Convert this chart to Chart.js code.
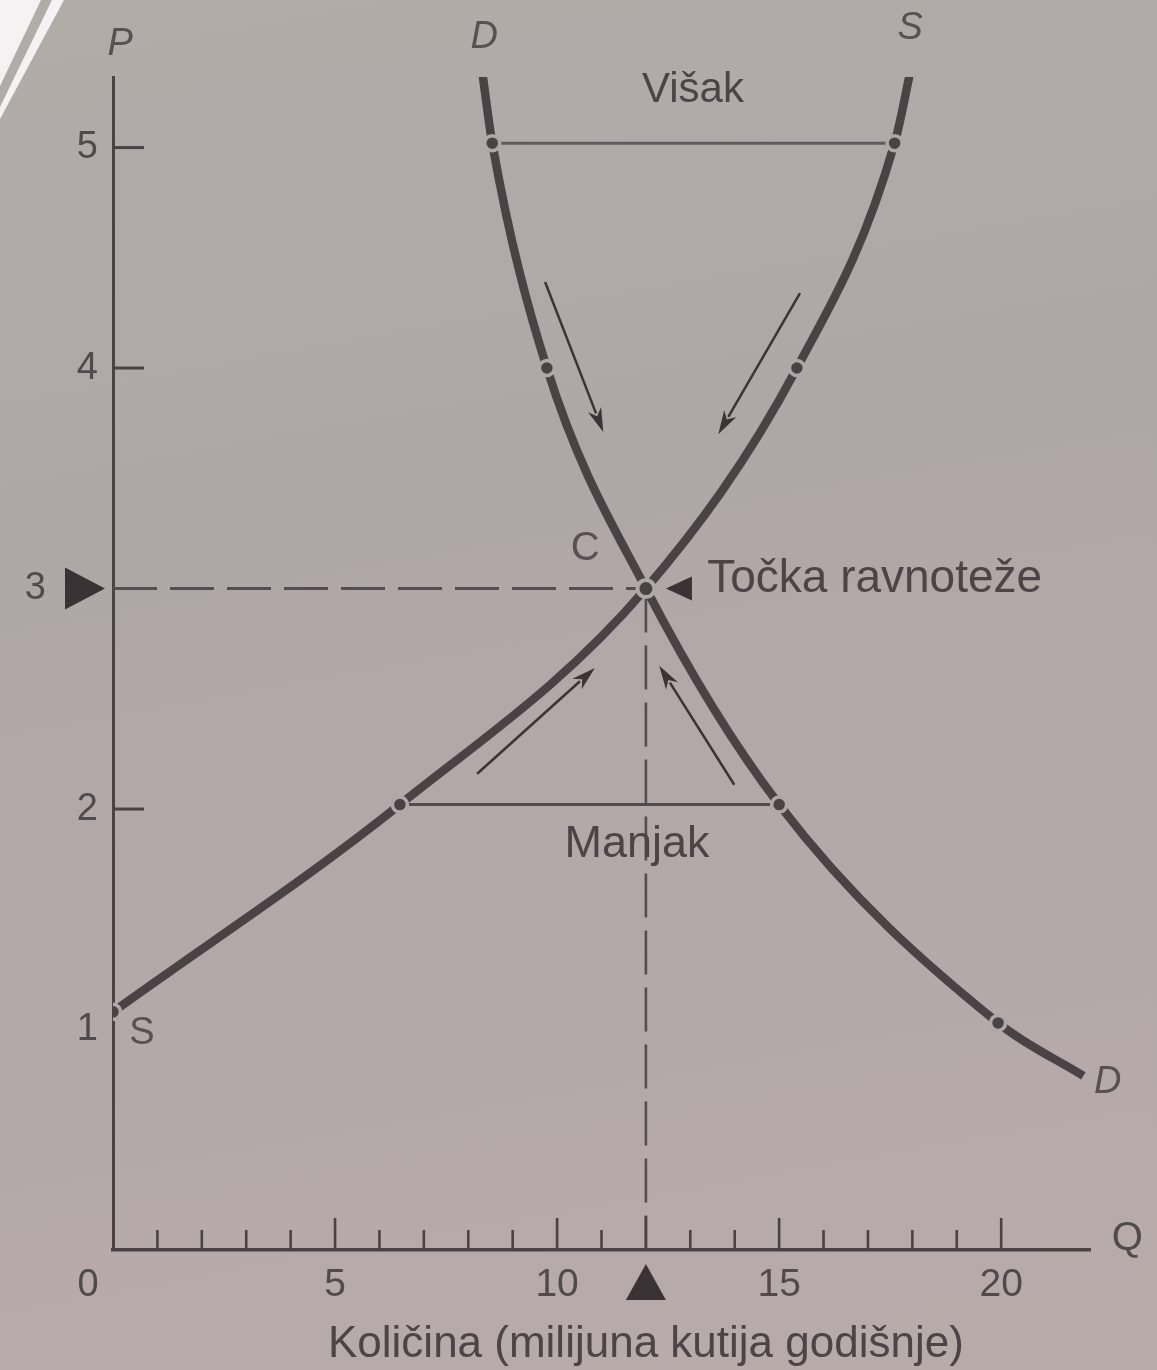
<!DOCTYPE html>
<html><head><meta charset="utf-8">
<script src="https://cdn.jsdelivr.net/npm/chart.js@4.4.1/dist/chart.umd.min.js"></script>
<style>
html,body{margin:0;padding:0;background:#b1a8a8;}
#wrap{width:1157px;height:1370px;position:relative;overflow:hidden;
background:linear-gradient(170deg,#b2aca9 0%,#afa7a6 35%,#b3a9a8 70%,#b8acab 100%);}
canvas{display:block;}
</style></head>
<body><div id="wrap"><canvas id="c" width="1157" height="1370"></canvas></div>
<script>
// ---- data ----
const supplyQ = [0, 6.46, 12, 15.4, 17.6, 18.0];
const supplyP = [1.08, 2.02, 3, 4.0, 5.02, 5.39];
const supplyDot = [1, 1, 0, 1, 1, 0];

const demandQ = [8.31, 8.54, 9.77, 12, 15.0, 19.93, 21.85];
const demandP = [5.35, 5.02, 4.0, 3, 2.02, 1.03, 0.79];
const demandDot = [0, 1, 1, 0, 1, 1, 0];

const eqQ = 12, eqP = 3;
const surplusP = 5.02, surplusQ = [8.54, 17.6];
const shortageP = 2.02, shortageQ = [6.46, 15.0];

const xTickValues = [5, 10, 15, 20];
const xTickLabels = ['5', '10', '15', '20'];
const yTickValues = [1, 2, 4, 5];
const yTickLabels = ['1', '2', '4', '5'];
const yTickMarks = [2, 4, 5];
const xMinorMax = 20;

// arrows: [fromQ, fromP, toQ, toP]
const arrows = [
  [9.73, 4.39, 11.04, 3.71],
  [15.47, 4.34, 13.63, 3.70],
  [8.2, 2.16, 10.85, 2.64],
  [13.99, 2.11, 12.3, 2.65]
];

// text: [text, Q, P, style, size]
const textLabels = [
  ['P', 0.16, 5.47, 'it', 38],
  ['D', 8.36, 5.50, 'it', 38],
  ['S', 17.95, 5.54, 'it', 38],
  ['Višak', 13.06, 5.26, 'txt', 42],
  ['C', 10.63, 3.18, 'c', 40],
  ['Točka ravnoteže', 13.38, 3.04, 'left', 46],
  ['Manjak', 11.8, 1.84, 'txt', 45],
  ['S', 0.65, 0.98, 'up', 38],
  ['D', 22.4, 0.76, 'it', 38],
  ['Q', 22.84, 0.05, 'num', 40],
  ['0', -0.56, -0.16, 'num', 38],
  ['3', -1.75, 3, 'num', 38],
  ['Količina (milijuna kutija godišnje)', 12.0, -0.43, 'txt', 44]
];

// ---- styling ----
const BG = '#b0a8a7';
const INK = '#4a4245';
const FONT = '"Liberation Sans", Arial, sans-serif';

const pts = (qs, ps) => qs.map((q, i) => ({x: q, y: ps[i]}));

const deco = {
  id: 'deco',
  beforeDraw(chart) {
    const ctx = chart.ctx;
    ctx.save();
    ctx.fillStyle = '#f4f2f2';
    const poly = a => { ctx.beginPath(); a.forEach((p, i) => i ? ctx.lineTo(p[0], p[1]) : ctx.moveTo(p[0], p[1])); ctx.closePath(); ctx.fill(); };
    poly([[0, 0], [41, 0], [0, 86]]);
    poly([[52, 0], [64, 0], [0, 119], [0, 107]]);
    ctx.restore();
  },
  afterDraw(chart) {
    const xs = chart.scales.x, ys = chart.scales.y, ctx = chart.ctx;
    const X = v => xs.getPixelForValue(v), Y = v => ys.getPixelForValue(v);
    ctx.save();
    // inside tick marks on Q axis
    ctx.strokeStyle = INK; ctx.lineWidth = 2.6; ctx.lineCap = 'butt';
    const y0 = Y(0);
    for (let q = 1; q <= xMinorMax; q++) {
      const len = (q % 5 === 0) ? 32 : (q === eqQ ? 34 : 20);
      ctx.beginPath(); ctx.moveTo(X(q), y0); ctx.lineTo(X(q), y0 - len); ctx.stroke();
    }
    // inside tick marks on P axis
    ctx.lineWidth = 3;
    yTickMarks.forEach(p => { ctx.beginPath(); ctx.moveTo(X(0), Y(p)); ctx.lineTo(X(0) + 31, Y(p)); ctx.stroke(); });

    // arrows
    ctx.strokeStyle = '#3b3336'; ctx.fillStyle = '#3b3336'; ctx.lineWidth = 2.5;
    arrows.forEach(a => {
      const x1 = X(a[0]), y1 = Y(a[1]), x2 = X(a[2]), y2 = Y(a[3]);
      const ang = Math.atan2(y2 - y1, x2 - x1), L = 24, W = 7;
      const bx = x2 - L * Math.cos(ang), by = y2 - L * Math.sin(ang);
      ctx.beginPath(); ctx.moveTo(x1, y1); ctx.lineTo(bx + 4 * Math.cos(ang), by + 4 * Math.sin(ang)); ctx.stroke();
      ctx.beginPath(); ctx.moveTo(x2, y2);
      ctx.lineTo(bx + W * Math.sin(ang), by - W * Math.cos(ang));
      ctx.lineTo(bx + 7 * Math.cos(ang), by + 7 * Math.sin(ang));
      ctx.lineTo(bx - W * Math.sin(ang), by + W * Math.cos(ang));
      ctx.closePath(); ctx.fill();
    });

    // triangles marking equilibrium
    ctx.fillStyle = '#3a3234';
    const tri = a => { ctx.beginPath(); a.forEach((p, i) => i ? ctx.lineTo(p[0], p[1]) : ctx.moveTo(p[0], p[1])); ctx.closePath(); ctx.fill(); };
    const ty = Y(eqP), tx = X(0);
    tri([[tx - 8, ty], [tx - 48, ty - 21], [tx - 48, ty + 21]]);
    const ex = X(eqQ), ey = Y(eqP);
    tri([[ex + 20, ey], [ex + 46, ey - 12], [ex + 46, ey + 12]]);
    const ax = X(eqQ);
    tri([[ax, y0 + 14], [ax - 20, y0 + 50], [ax + 20, y0 + 50]]);

    // text labels
    ctx.textBaseline = 'middle';
    textLabels.forEach(([t, q, p, st, sz]) => {
      let font = sz + 'px ' + FONT, col = '#4c4447', align = 'center';
      if (st === 'it') { font = 'italic ' + sz + 'px ' + FONT; col = '#585053'; }
      if (st === 'up' || st === 'c') { col = '#585053'; }
      if (st === 'num') { col = '#514a4c'; }
      if (st === 'left') { align = 'left'; }
      ctx.font = font; ctx.fillStyle = col; ctx.textAlign = align;
      ctx.fillText(t, X(q), Y(p));
    });
    ctx.restore();
  }
};

const ring = BG;
new Chart(document.getElementById('c'), {
  type: 'scatter',
  data: {
    datasets: [
      { data: [{x: 0, y: eqP}, {x: eqQ, y: eqP}], showLine: true, borderColor: '#554d50', borderWidth: 3, borderDash: [44, 13], pointRadius: 0, order: 10 },
      { data: [{x: eqQ, y: eqP}, {x: eqQ, y: 0}], showLine: true, borderColor: '#554d50', borderWidth: 2.6, borderDash: [44, 13], pointRadius: 0, order: 10 },
      { data: surplusQ.map(q => ({x: q, y: surplusP})), showLine: true, borderColor: '#625a5c', borderWidth: 3, pointRadius: 0, order: 9 },
      { data: shortageQ.map(q => ({x: q, y: shortageP})), showLine: true, borderColor: '#514a4c', borderWidth: 3, pointRadius: 0, order: 9 },
      { data: pts(supplyQ, supplyP), showLine: true, borderColor: INK, borderWidth: 8.5, cubicInterpolationMode: 'monotone',
        pointRadius: supplyDot.map(d => d ? 7.5 : 0), pointBackgroundColor: INK, pointBorderColor: ring, pointBorderWidth: 3.5, order: 5 },
      { data: pts(demandQ, demandP), showLine: true, borderColor: INK, borderWidth: 8.5, cubicInterpolationMode: 'monotone',
        pointRadius: demandDot.map(d => d ? 7.5 : 0), pointBackgroundColor: INK, pointBorderColor: ring, pointBorderWidth: 3.5, order: 4 },
      { data: [{x: eqQ, y: eqP}], showLine: false, pointRadius: 8.5, pointBackgroundColor: INK, pointBorderColor: ring, pointBorderWidth: 4, order: 1 }
    ]
  },
  options: {
    responsive: false, animation: false, devicePixelRatio: 1,
    layout: { padding: { top: 77, right: 67, left: 0, bottom: 0 } },
    plugins: { legend: { display: false }, tooltip: { enabled: false } },
    elements: { line: { borderCapStyle: 'butt' } },
    scales: {
      x: {
        type: 'linear', min: 0, max: 22,
        afterFit: s => { s.height = 120; },
        afterBuildTicks: s => { s.ticks = xTickValues.map(v => ({value: v})); },
        ticks: { callback: v => xTickLabels[xTickValues.indexOf(v)] ?? '', font: { size: 39, family: FONT }, color: '#514a4c', padding: 12, maxRotation: 0, autoSkip: false },
        grid: { display: false, drawTicks: false },
        border: { display: true, color: INK, width: 3.5 }
      },
      y: {
        type: 'linear', min: 0, max: 5.32,
        afterFit: s => { s.width = 113; },
        afterBuildTicks: s => { s.ticks = yTickValues.map(v => ({value: v})); },
        ticks: { callback: v => yTickLabels[yTickValues.indexOf(v)] ?? '', font: { size: 38, family: FONT }, color: '#514a4c', padding: 15 },
        grid: { display: false, drawTicks: false },
        border: { display: true, color: INK, width: 3 }
      }
    }
  },
  plugins: [deco]
});
</script>
</body></html>
